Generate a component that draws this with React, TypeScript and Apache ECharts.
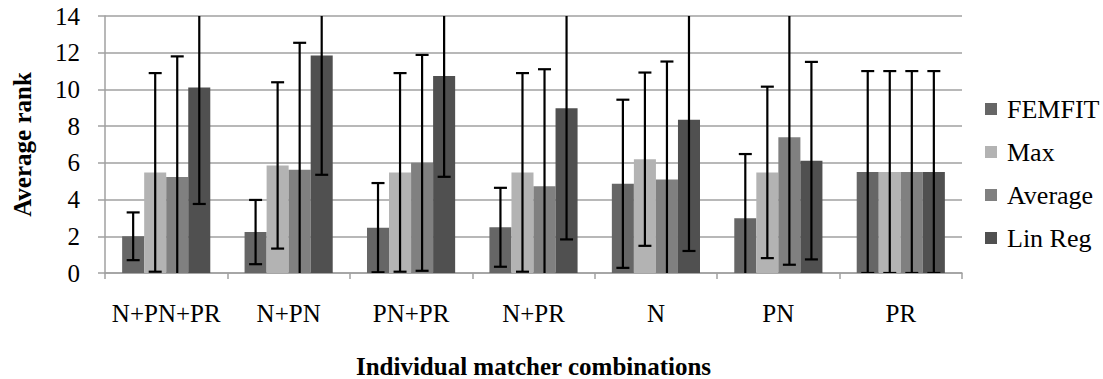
import React, { useEffect, useRef } from "react";
import * as echarts from "echarts";

const categories = ["N+PN+PR", "N+PN", "PN+PR", "N+PR", "N", "PN", "PR"];
const seriesNames = ["FEMFIT", "Max", "Average", "Lin Reg"];
const femfit = [2.0, 2.23, 2.47, 2.49, 4.86, 2.98, 5.5];
const maxVals = [5.48, 5.86, 5.48, 5.48, 6.2, 5.48, 5.5];
const averageVals = [5.23, 5.63, 6.0, 4.72, 5.1, 7.39, 5.5];
const linReg = [10.11, 11.85, 10.73, 8.97, 8.35, 6.12, 5.5];
const femfitErr = [1.3, 1.75, 2.43, 2.15, 4.58, 3.5, 5.5];
const maxErr = [5.41, 4.53, 5.41, 5.41, 4.72, 4.67, 5.5];
const averageErr = [6.57, 6.91, 5.88, 6.38, 6.42, 6.94, 5.5];
const linRegErr = [6.35, 6.5, 5.49, 7.14, 7.15, 5.38, 5.5];
const yTicks = [0, 14, 2];

const colors = ["#666666", "#b3b3b3", "#808080", "#505050"];
const FONT = "Liberation Serif";
const CAT_GAP = 0.28;

export default function App() {
  const ref = useRef<HTMLDivElement>(null);
  useEffect(() => {
    if (!ref.current) return;
    const chart = echarts.init(ref.current, null, { renderer: "svg" });
    const values = [femfit, maxVals, averageVals, linReg];
    const errs = [femfitErr, maxErr, averageErr, linRegErr];

    const barSeries = values.map((v, j) => ({
      type: "bar",
      name: seriesNames[j],
      data: v,
      barGap: "0%",
      barCategoryGap: CAT_GAP * 100 + "%",
      itemStyle: { color: colors[j] },
      z: 2,
    }));

    const errSeries = values.map((v, j) => ({
      type: "custom",
      name: seriesNames[j] + "_err",
      clip: true,
      z: 5,
      data: v.map((val, i) => [i, val, errs[j][i]]),
      encode: { x: 0, y: 1 },
      renderItem: (params: any, api: any) => {
        const i = api.value(0);
        const val = api.value(1);
        const e = api.value(2);
        const band = api.size([1, 0])[0];
        const barW = (band * (1 - CAT_GAP)) / 4;
        const c = api.coord([i, val]);
        const x = c[0] - (band * (1 - CAT_GAP)) / 2 + barW * (j + 0.5);
        const yHi = api.coord([i, val + e])[1];
        const yLo = api.coord([i, val - e])[1];
        const cap = 6.5;
        const st = { stroke: "#000", lineWidth: 2.2 };
        return {
          type: "group",
          children: [
            { type: "line", shape: { x1: x, y1: yHi, x2: x, y2: yLo }, style: st },
            { type: "line", shape: { x1: x - cap, y1: yHi, x2: x + cap, y2: yHi }, style: st },
            { type: "line", shape: { x1: x - cap, y1: yLo, x2: x + cap, y2: yLo }, style: st },
          ],
        };
      },
    }));

    chart.setOption({
      animation: false,
      textStyle: { fontFamily: FONT },
      grid: { left: 105, right: 141, top: 16, bottom: 106, outerBoundsMode: "none", containLabel: false },
      legend: {
        orient: "vertical",
        left: 980,
        top: 91,
        itemWidth: 12,
        itemHeight: 12,
        itemGap: 17,
        icon: "rect",
        data: seriesNames,
        textStyle: { fontFamily: FONT, fontSize: 26, color: "#000", padding: [0, 0, 0, 5] },
      },
      xAxis: {
        type: "category",
        data: categories,
        name: "Individual matcher combinations",
        nameLocation: "middle",
        nameGap: 81,
        nameTextStyle: { fontFamily: FONT, fontSize: 25, fontWeight: "bold", color: "#000" },
        axisLine: { lineStyle: { color: "#a0a0a0", width: 1.5 } },
        axisTick: { show: true, length: 6, lineStyle: { color: "#a0a0a0", width: 1.5 } },
        axisLabel: { fontFamily: FONT, fontSize: 25, color: "#000", margin: 28, interval: 0 },
      },
      yAxis: {
        type: "value",
        min: yTicks[0],
        max: yTicks[1],
        interval: yTicks[2],
        name: "Average rank",
        nameLocation: "middle",
        nameGap: 70,
        nameTextStyle: { fontFamily: FONT, fontSize: 25, fontWeight: "bold", color: "#000" },
        axisLine: { show: true, lineStyle: { color: "#a0a0a0", width: 1.5 } },
        axisTick: { show: true, length: 7, lineStyle: { color: "#a0a0a0", width: 1.5 } },
        axisLabel: { fontFamily: FONT, fontSize: 25, color: "#000", margin: 25 },
        splitLine: { lineStyle: { color: "#a0a0a0", width: 1.5 } },
      },
      series: [...barSeries, ...errSeries],
    });
    return () => chart.dispose();
  }, []);
  return <div ref={ref} style={{ width: 1103, height: 379, position: "absolute", left: 0, top: 0 }} />;
}
